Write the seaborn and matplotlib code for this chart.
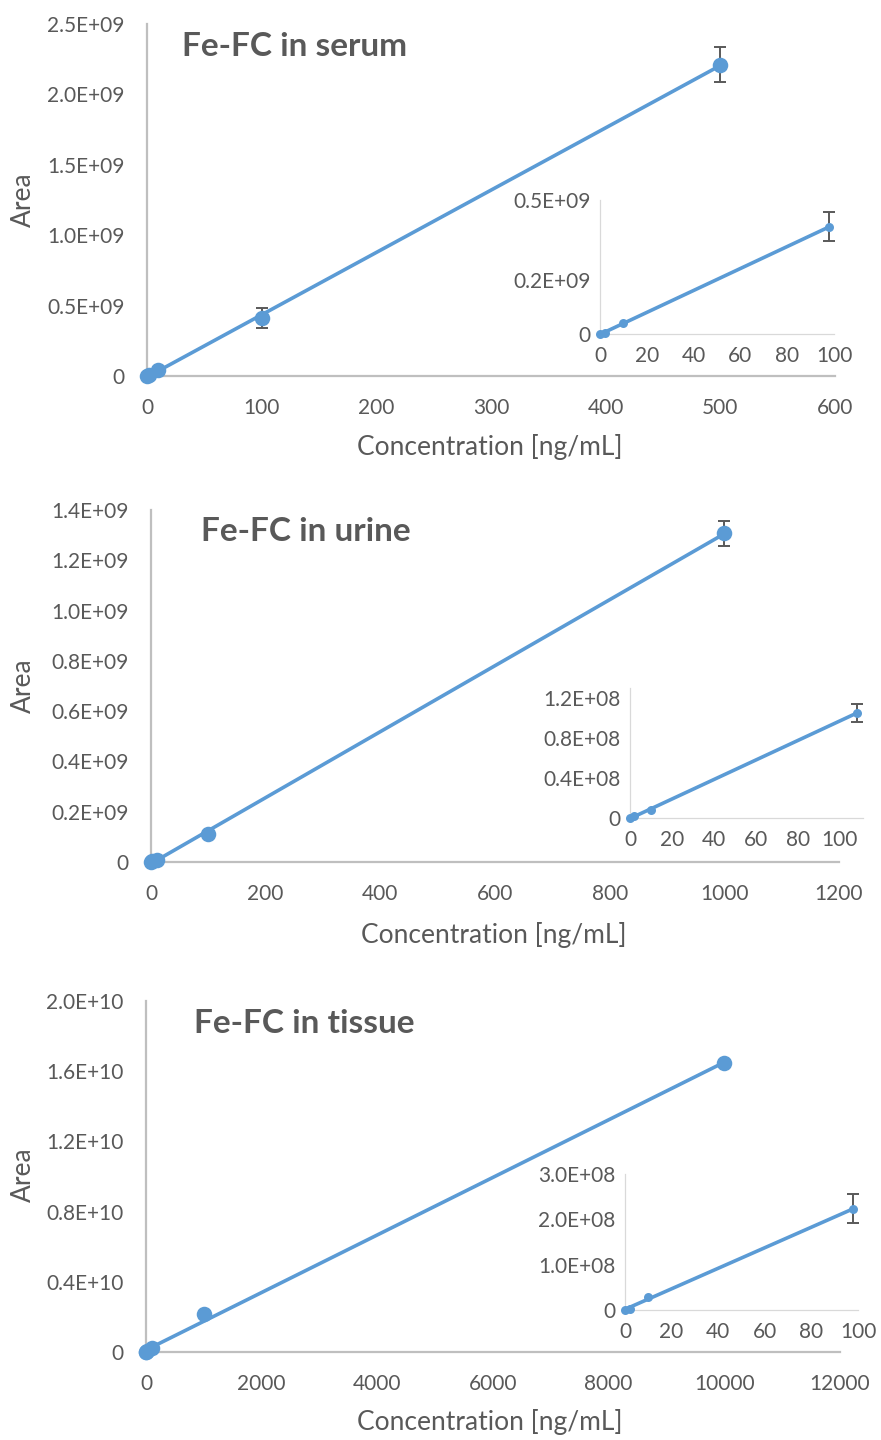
import numpy as np
import pandas as pd
import matplotlib
matplotlib.use("Agg")
import matplotlib.pyplot as plt
import seaborn as sns

# ---- Calibration data (concentration in ng/mL, peak area) ----
serum_conc = [0, 2, 10, 100, 500]
serum_area = [0.0, 0.005e9, 0.045e9, 0.41e9, 2.21e9]
serum_err = [0, 0, 0, 0.07e9, 0.125e9]

serum_low_conc = [0, 2, 10, 98]
serum_low_area = [0.0, 0.005e9, 0.04e9, 0.40e9]
serum_low_err = [0, 0, 0, 0.054e9]

urine_conc = [0, 2, 10, 100, 1000]
urine_area = [0.0, 0.002e9, 0.008e9, 0.11e9, 1.307e9]
urine_err = [0, 0, 0, 0.012e9, 0.05e9]

urine_low_conc = [0, 2, 10, 108]
urine_low_area = [0.0, 0.02e8, 0.08e8, 1.05e8]
urine_low_err = [0, 0, 0, 0.09e8]

tissue_conc = [0, 2, 10, 100, 1000, 10000]
tissue_area = [0.0, 0.00003e10, 0.003e10, 0.024e10, 0.215e10, 1.647e10]
tissue_err = [0, 0, 0, 0, 0, 0]

tissue_low_conc = [0, 2, 10, 98]
tissue_low_area = [0.0, 0.03e8, 0.29e8, 2.23e8]
tissue_low_err = [0, 0, 0, 0.32e8]

# ---- Tick values and labels ----
serum_xticks = [0, 100, 200, 300, 400, 500, 600]
serum_yticks = [0, 0.5e9, 1.0e9, 1.5e9, 2.0e9, 2.5e9]
serum_ylabels = ["0", "0.5E+09", "1.0E+09", "1.5E+09", "2.0E+09", "2.5E+09"]
serum_low_yticks = [0, 0.2e9, 0.5e9]
serum_low_ylabels = ["0", "0.2E+09", "0.5E+09"]

urine_xticks = [0, 200, 400, 600, 800, 1000, 1200]
urine_yticks = [0, 0.2e9, 0.4e9, 0.6e9, 0.8e9, 1.0e9, 1.2e9, 1.4e9]
urine_ylabels = ["0", "0.2E+09", "0.4E+09", "0.6E+09", "0.8E+09",
                 "1.0E+09", "1.2E+09", "1.4E+09"]
urine_low_yticks = [0, 0.4e8, 0.8e8, 1.2e8]
urine_low_ylabels = ["0", "0.4E+08", "0.8E+08", "1.2E+08"]

tissue_xticks = [0, 2000, 4000, 6000, 8000, 10000, 12000]
tissue_yticks = [0, 0.4e10, 0.8e10, 1.2e10, 1.6e10, 2.0e10]
tissue_ylabels = ["0", "0.4E+10", "0.8E+10", "1.2E+10", "1.6E+10", "2.0E+10"]
tissue_low_yticks = [0, 1.0e8, 2.0e8, 3.0e8]
tissue_low_ylabels = ["0", "1.0E+08", "2.0E+08", "3.0E+08"]

low_xticks = [0, 20, 40, 60, 80, 100]

titles = ["Fe-FC in serum", "Fe-FC in urine", "Fe-FC in tissue"]
x_title = "Concentration [ng/mL]"
y_title = "Area"

# ---- Styling ----
sns.set_theme(style="white")
plt.rcParams["font.family"] = ["Lato", "DejaVu Sans"]
BLUE = "#5B9BD5"
TEXT = "#595959"
AXIS_MAIN = "#BFBFBF"
AXIS_LOW = "#D9D9D9"

W, H = 881, 1440
fig = plt.figure(figsize=(W / 100, H / 100), dpi=100)
fig.patch.set_facecolor("white")


def axes_px(left, top, right, bottom):
    return fig.add_axes([left / W, 1 - bottom / H, (right - left) / W, (bottom - top) / H])


def draw(ax, conc, area, err, xlim, ylim, xticks, yticks, ylabels, inset):
    df = pd.DataFrame({"conc": conc, "area": area, "err": err})
    sns.regplot(data=df, x="conc", y="area", ax=ax, ci=None, scatter=False,
                truncate=True, color=BLUE,
                line_kws=dict(lw=2.6, solid_capstyle="butt", zorder=2))
    bars = df[df["err"] > 0]
    if len(bars):
        ax.errorbar(bars["conc"], bars["area"], yerr=bars["err"], fmt="none",
                    ecolor=TEXT, elinewidth=1.4, capsize=4, capthick=1.4,
                    zorder=3)
    sns.scatterplot(data=df, x="conc", y="area", ax=ax, color=BLUE,
                    s=42 if inset else 125, linewidth=0, zorder=4,
                    legend=False, clip_on=False)
    ax.set_xlim(*xlim)
    ax.set_ylim(*ylim)
    ax.set_xticks(xticks)
    ax.set_xticklabels([str(t) for t in xticks])
    ax.set_yticks(yticks)
    ax.set_yticklabels(ylabels)
    ax.set_xlabel("")
    ax.set_ylabel("")
    ax.set_facecolor("none")
    sns.despine(ax=ax)
    spine_c = AXIS_LOW if inset else AXIS_MAIN
    for side in ("left", "bottom"):
        ax.spines[side].set_color(spine_c)
        ax.spines[side].set_linewidth(0.9 if inset else 1.6)
    ax.tick_params(axis="both", length=0, labelsize=15, labelcolor=TEXT)
    ax.tick_params(axis="y", pad=7 if inset else 16)
    ax.tick_params(axis="x", pad=9 if inset else 16)
    ax.grid(False)


# Serum
ax = axes_px(147, 24, 835, 376)
draw(ax, serum_conc, serum_area, serum_err, (0, 600), (0, 2.5e9),
     serum_xticks, serum_yticks, serum_ylabels, False)
ax = axes_px(600, 200, 834, 334)
draw(ax, serum_low_conc, serum_low_area, serum_low_err, (0, 100), (0, 0.5e9),
     low_xticks, serum_low_yticks, serum_low_ylabels, True)

# Urine
ax = axes_px(151, 510, 839, 862)
draw(ax, urine_conc, urine_area, urine_err, (0, 1200), (0, 1.4e9),
     urine_xticks, urine_yticks, urine_ylabels, False)
ax = axes_px(630, 688, 863, 818)
draw(ax, urine_low_conc, urine_low_area, urine_low_err, (0, 111), (0, 1.3e8),
     low_xticks, urine_low_yticks, urine_low_ylabels, True)

# Tissue
ax = axes_px(146, 1001, 840, 1352)
draw(ax, tissue_conc, tissue_area, tissue_err, (0, 12000), (0, 2.0e10),
     tissue_xticks, tissue_yticks, tissue_ylabels, False)
ax = axes_px(625, 1174, 858, 1310)
draw(ax, tissue_low_conc, tissue_low_area, tissue_low_err, (0, 100), (0, 3.0e8),
     low_xticks, tissue_low_yticks, tissue_low_ylabels, True)

# Panel titles and axis titles
title_pos = [(182, 56), (201, 541), (194, 1033)]
for t, (x, y) in zip(titles, title_pos):
    fig.text(x / W, 1 - y / H, t, ha="left", va="baseline", fontsize=24,
             fontweight="bold", color=TEXT)

for y in (200, 686, 1175):
    fig.text(23 / W, 1 - y / H, y_title, rotation=90, ha="center", va="center",
             fontsize=19, color=TEXT)

for x, y in ((490, 447), (494, 935), (490, 1422)):
    fig.text(x / W, 1 - y / H, x_title, ha="center", va="center",
             fontsize=19, color=TEXT)

fig.savefig("out.png", dpi=100, facecolor="white")
